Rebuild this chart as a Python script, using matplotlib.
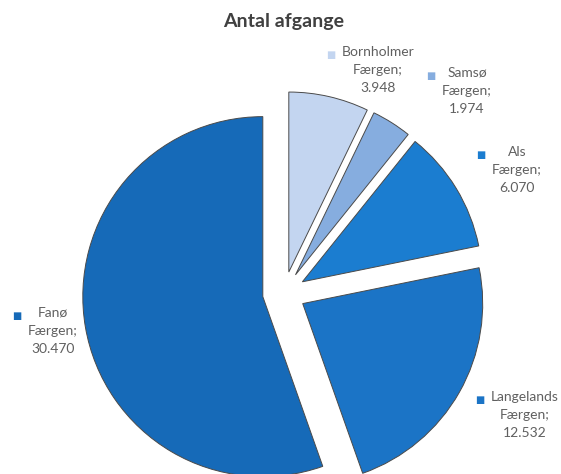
import matplotlib.pyplot as plt

plt.rcParams['font.family'] = ['Lato', 'DejaVu Sans']

# data
names = ['Bornholmer\nFærgen', 'Samsø\nFærgen', 'Als\nFærgen', 'Langelands\nFærgen', 'Fanø\nFærgen']
values = [3.948, 1.974, 6.070, 12.532, 30.470]
value_labels = ['3.948', '1.974', '6.070', '12.532', '30.470']
colors = ['#c3d5f0', '#86addf', '#1b7dd0', '#1b74c6', '#166ab8']

# label centres in pixel coords (x, y from top)
label_pos = [(378, 70), (467, 91), (517, 170), (525, 415), (53, 331)]

W, H = 561, 474
fig = plt.figure(figsize=(W / 100, H / 100), dpi=100)
ax = fig.add_axes([0, 0, 1, 1])

cx, cy, r = 284, H - 293, 180
explode = [21.5] * len(values)
wedges, _ = ax.pie(values, colors=colors, startangle=90, counterclock=False,
                   center=(cx, cy), radius=r, explode=explode,
                   wedgeprops=dict(edgecolor='#4a4a4a', linewidth=0.7))
ax.set_xlim(0, W)
ax.set_ylim(0, H)
ax.set_aspect('equal')
ax.axis('off')

ax.text(284, H - 21, 'Antal afgange', ha='center', va='center',
        fontsize=14, fontweight='bold', color='#404040')

for name, val, col, (px, py) in zip(names, value_labels, colors, label_pos):
    t = ax.text(px, H - py, name + ';\n' + val, ha='center', va='center',
                fontsize=10, color='#606060', linespacing=1.62)
    ax.annotate('■', xy=(0, 1), xycoords=t, xytext=(-8, -6.5),
                textcoords='offset points', ha='center', va='center',
                fontsize=7, color=col, family='DejaVu Sans')

fig.savefig('out.png', dpi=100)
